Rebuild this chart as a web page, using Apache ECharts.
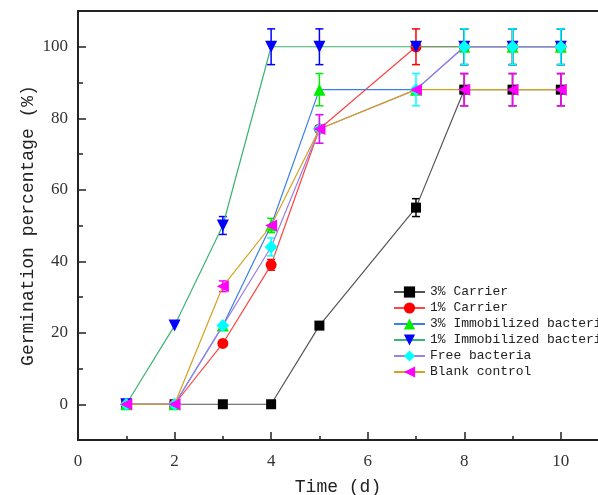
<!DOCTYPE html>
<html>
<head>
<meta charset="utf-8">
<script src="https://cdn.jsdelivr.net/npm/echarts@6/dist/echarts.min.js"></script>
<style>
  html, body { margin: 0; padding: 0; background: #fff; }
  #chart { width: 598px; height: 495px; }
</style>
</head>
<body>
<div id="chart"></div>
<script>
// days sampled (day 6 was not measured)
const days = [1, 2, 3, 4, 5, 7, 8, 9, 10]

const names = ['3% Carrier', '1% Carrier', '3% Immobilized bacteria', '1% Immobilized bacteria', 'Free bacteria', 'Blank control']

const carrier3 = [0, 0, 0, 0, 22, 55, 88, 88, 88]
const carrier1 = [0, 0, 17, 39, 77, 100, 100, 100, 100]
const immob3 = [0, 0, 22, 50, 88, 88, 100, 100, 100]
const immob1 = [0, 22, 50, 100, 100, 100, 100, 100, 100]
const freeBac = [0, 0, 22, 44, 77, 88, 100, 100, 100]
const blank = [0, 0, 33, 50, 77, 88, 88, 88, 88]

// error bar half-lengths (0 = no bar drawn)
const carrier3Err = [0, 0, 0, 0, 0, 2.5, 4.5, 4.5, 4.5]
const carrier1Err = [0, 0, 0, 1.5, 0, 5, 5, 5, 5]
const immob3Err = [0, 0, 0, 2, 4.5, 0, 5, 5, 5]
const immob1Err = [0, 0, 2.5, 5, 5, 0, 5, 5, 5]
const freeBacErr = [0, 0, 0, 2.5, 4, 4.5, 5, 5, 5]
const blankErr = [0, 0, 1.5, 0, 4, 0, 4.5, 4.5, 4.5]

const yLabels = [0, 20, 40, 60, 80, 100]
const yMinor = [10, 30, 50, 70, 90]
const xLabels = [0, 2, 4, 6, 8, 10]
const xMinor = [1, 3, 5, 7, 9]

var chart = echarts.init(document.getElementById('chart'))

// marker / line looks per series
const looks = [
  { symbol: 'rect', size: 10, rotate: 0, mark: '#000000', line: '#555555' },
  { symbol: 'circle', size: 11, rotate: 0, mark: '#ff0000', line: '#ff4444' },
  { symbol: 'triangle', size: 12, rotate: 0, mark: '#00ee00', line: '#3a7fe8' },
  { symbol: 'triangle', size: 12, rotate: 180, mark: '#0000ff', line: '#3cb371' },
  { symbol: 'diamond', size: 13, rotate: 0, mark: '#00ffff', line: '#9b80e6' },
  { symbol: 'triangle', size: 12, rotate: 90, mark: '#ff00ff', line: '#d4a020' }
]
const values = [carrier3, carrier1, immob3, immob1, freeBac, blank]
const errs = [carrier3Err, carrier1Err, immob3Err, immob1Err, freeBacErr, blankErr]

function errBar (color) {
  return function (params, api) {
    var x = api.value(0), y = api.value(1), e = api.value(2)
    var t = api.coord([x, y + e])
    var b = api.coord([x, y - e])
    var w = 4
    var st = { stroke: color, lineWidth: 1.5 }
    return {
      type: 'group',
      children: [
        { type: 'line', shape: { x1: t[0], y1: t[1], x2: b[0], y2: b[1] }, style: st },
        { type: 'line', shape: { x1: t[0] - w, y1: t[1], x2: t[0] + w, y2: t[1] }, style: st },
        { type: 'line', shape: { x1: b[0] - w, y1: b[1], x2: b[0] + w, y2: b[1] }, style: st }
      ]
    }
  }
}

let series = []
values.forEach(function (vals, k) {
  let lk = looks[k]
  series.push({
    type: 'custom',
    name: 'err' + k,
    renderItem: errBar(lk.mark),
    encode: { x: 0, y: 1 },
    z: 2 + k * 2,
    silent: true,
    data: days.map((d, i) => [d, vals[i], errs[k][i]]).filter(p => p[2] > 0)
  })
  series.push({
    type: 'line',
    name: names[k],
    data: days.map((d, i) => [d, vals[i]]),
    symbol: lk.symbol,
    symbolSize: lk.size,
    symbolRotate: lk.rotate,
    z: 3 + k * 2,
    lineStyle: { color: lk.line, width: 1.2 },
    itemStyle: { color: lk.mark },
    emphasis: { disabled: true }
  })
})

const axisFont = { fontFamily: 'Liberation Serif', fontSize: 17, color: '#333' }
const titleFont = { fontFamily: 'Liberation Mono', fontSize: 18, color: '#222' }

let option = {
  animation: false,
  grid: { left: 78, right: 0, top: 11, bottom: 55, containLabel: false, outerBoundsMode: 'none' },
  legend: {
    data: names,
    orient: 'vertical',
    left: 393,
    top: 285,
    padding: 0,
    itemWidth: 31,
    itemHeight: 14,
    itemGap: 2,
    textStyle: { fontFamily: 'Liberation Mono', fontSize: 13, color: '#222', lineHeight: 14 }
  },
  xAxis: [
    {
      type: 'value',
      min: 0,
      max: 10.77,
      name: 'Time (d)',
      nameLocation: 'middle',
      nameGap: 38,
      nameMoveOverlap: false,
      nameTextStyle: titleFont,
      splitLine: { show: false },
      axisLine: { onZero: false, lineStyle: { color: '#222', width: 2 } },
      axisTick: { inside: true, length: 8, customValues: xLabels, lineStyle: { color: '#222', width: 1.5 } },
      axisLabel: Object.assign({ margin: 13, customValues: xLabels }, axisFont)
    },
    {
      type: 'value',
      min: 0,
      max: 10.77,
      position: 'bottom',
      splitLine: { show: false },
      axisLine: { show: false, onZero: false },
      axisTick: { inside: true, length: 4, customValues: xMinor, lineStyle: { color: '#222', width: 1.5 } },
      axisLabel: { show: false }
    },
    {
      type: 'value',
      min: 0,
      max: 10.77,
      position: 'top',
      splitLine: { show: false },
      axisLine: { onZero: false, lineStyle: { color: '#222', width: 2 } },
      axisTick: { show: false },
      axisLabel: { show: false }
    }
  ],
  yAxis: [
    {
      type: 'value',
      min: -10,
      max: 110,
      name: 'Germination percentage (%)',
      nameLocation: 'middle',
      nameGap: 41,
      nameMoveOverlap: false,
      nameTextStyle: titleFont,
      splitLine: { show: false },
      axisLine: { onZero: false, lineStyle: { color: '#222', width: 2 } },
      axisTick: { inside: true, length: 8, customValues: yLabels, lineStyle: { color: '#222', width: 1.5 } },
      axisLabel: Object.assign({ margin: 10, customValues: yLabels }, axisFont)
    },
    {
      type: 'value',
      min: -10,
      max: 110,
      position: 'left',
      splitLine: { show: false },
      axisLine: { show: false, onZero: false },
      axisTick: { inside: true, length: 5, customValues: yMinor, lineStyle: { color: '#222', width: 1.5 } },
      axisLabel: { show: false }
    }
  ],
  series: series
}

option && chart.setOption(option)
</script>
</body>
</html>
